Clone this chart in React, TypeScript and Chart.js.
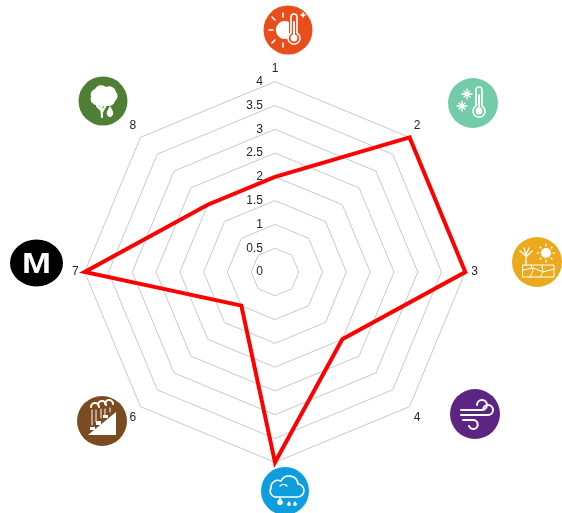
import React, { useEffect, useRef } from "react";
import { Chart, registerables } from "chart.js";

Chart.register(...registerables);

const categories = ["1", "2", "3", "4", "5", "6", "7", "8"];
const seriesValues = [2, 4, 4, 2, 4, 1, 4, 2];
const tickValues = [0, 0.5, 1, 1.5, 2, 2.5, 3, 3.5, 4];

type Glyph = (c: CanvasRenderingContext2D) => void;

const line = (c: CanvasRenderingContext2D, d: string, w = 1.6) => {
  c.lineWidth = w;
  c.stroke(new Path2D(d));
};
const fill = (c: CanvasRenderingContext2D, d: string) => c.fill(new Path2D(d));

const thermo: Glyph = (c) => {
  line(c, "M3 -13 A3 3 0 0 1 9 -13 V3 A6 6 0 1 1 3 3 Z", 1.6);
  c.beginPath(); c.arc(6, 8, 3.4, 0, 7); c.fill();
  line(c, "M6 -8 V6", 2);
};

const icons: { x: number; y: number; rx: number; ry: number; color: string; glyph: Glyph }[] = [
  { x: 288, y: 30, rx: 24.5, ry: 24.5, color: "#E84E1B", glyph: (c) => {
    thermo(c);
    fill(c, "M1 -8 A9 9 0 1 0 1 8 Z");
    line(c, "M-15 0 H-19 M-13 -10 L-16 -13 M-5 -13 V-17 M-13 10 L-16 13 M-5 13 V17 M13 -15 H17 M15 -17 V-13", 1.6);
  } },
  { x: 473, y: 103, rx: 25, ry: 25, color: "#73CBA9", glyph: (c) => {
    thermo(c);
    line(c, "M-6 -14 V-4 M-11 -9 H-1 M-9 -12 L-3 -6 M-3 -12 L-9 -6 M-11 -2 V8 M-16 3 H-6 M-14 0 L-8 6 M-8 0 L-14 6", 1.3);
  } },
  { x: 537, y: 262, rx: 25, ry: 25, color: "#EBA91E", glyph: (c) => {
    c.beginPath(); c.arc(9, -9, 5, 0, 7); c.fill();
    line(c, "M9 -18 V-16 M9 -2 V0 M0 -9 H2 M16 -9 H18 M3 -15 L4 -14 M15 -15 L14 -14 M3 -3 L4 -4 M15 -3 L14 -4", 1.2);
    line(c, "M-14 3 H17 V15 H-14 Z M-14 8 L-4 6 L6 10 L17 7 M-6 3 L-4 9 L-7 15 M5 4 L6 10 L3 15", 1);
    line(c, "M-11 3 V-6 M-11 -6 L-17 -11 M-11 -5 L-5 -11 M-11 -7 L-13 -14 M-11 -7 L-8 -14", 1.3);
  } },
  { x: 475, y: 414, rx: 25, ry: 25, color: "#5D2583", glyph: (c) => {
    line(c, "M-14 -4 H7 A5 5 0 1 0 2 -9 M-14 1 H13 A5 5 0 1 0 8 -4 M-12 6 H-2 A4.5 4.5 0 1 1 -6 12", 2);
  } },
  { x: 285, y: 491, rx: 24, ry: 24, color: "#0E9DDD", glyph: (c) => {
    line(c, "M-8 6 H12 A6.5 6.5 0 0 0 13 -7 A9 9 0 0 0 -4 -10 A7 7 0 0 0 -14 -3 A6 6 0 0 0 -8 6 Z", 1.6);
    line(c, "M-5 -5 A5 5 0 0 1 2 -5", 1.4);
    fill(c, "M-5 6 L-2 11 A3 3 0 1 1 -8 11 Z M4 10 L6 13 A2 2 0 1 1 2 13 Z M10 10 L12 13 A2 2 0 1 1 8 13 Z");
  } },
  { x: 102, y: 421, rx: 25, ry: 25, color: "#7A4A21", glyph: (c) => {
    fill(c, "M-14 14 L14 -9 V14 Z");
    line(c, "M-11 -14 A4 4 0 0 1 -3 -14 M-4 -16 A4 4 0 0 1 4 -16 M3 -17 A4 4 0 0 1 11 -17", 2);
    line(c, "M-10 -11 V4 M-6 -11 V1 M-1 -12 V-3 M3 -12 V-5 M8 -13 V-9", 1);
    fill(c, "M-12 6 h5 v3 h-5 Z M-6 0 h5 v4 h-5 Z M1 -6 h5 v3 h-5 Z");
  } },
  { x: 36.5, y: 263, rx: 26.5, ry: 23.5, color: "#000000", glyph: (c) => {
    c.font = "bold 29px 'Liberation Sans'";
    c.textAlign = "center";
    c.textBaseline = "middle";
    c.scale(1.2, 1);
    c.fillText("M", 0, 2);
  } },
  { x: 103, y: 101, rx: 24.5, ry: 24.5, color: "#4F7F34", glyph: (c) => {
    fill(c, "M-12 -4 A6 6 0 0 1 -8 -12 A7 7 0 0 1 3 -14 A7 7 0 0 1 13 -9 A6 6 0 0 1 12 0 A6 6 0 0 1 3 4 A7 7 0 0 1 -6 4 A6 6 0 0 1 -12 -4 Z");
    line(c, "M-2 2 L-1 16 M-6 5 L-2 9 M3 4 L-1 11", 2.2);
    fill(c, "M6 16 C2 13 4 10 7 5 C10 10 12 13 8 16 Z");
  } },
];

const iconPlugin = {
  id: "icons",
  afterDraw(chart: Chart) {
    const c = chart.ctx;
    for (const i of icons) {
      c.save();
      c.translate(i.x, i.y);
      c.fillStyle = i.color;
      c.beginPath();
      c.ellipse(0, 0, i.rx, i.ry, 0, 0, Math.PI * 2);
      c.fill();
      c.fillStyle = "#ffffff";
      c.strokeStyle = "#ffffff";
      c.lineCap = "round";
      i.glyph(c);
      c.restore();
    }
  },
};

const tickLabelPlugin = {
  id: "tickLabels",
  afterDatasetsDraw(chart: Chart) {
    const scale = chart.scales.r as any;
    const c = chart.ctx;
    c.save();
    c.font = "12px 'Liberation Sans'";
    c.fillStyle = "#262626";
    c.textAlign = "right";
    c.textBaseline = "middle";
    for (const t of scale.ticks) {
      const d = scale.getDistanceFromCenterForValue(t.value);
      c.fillText(String(t.value), scale.xCenter - 12, scale.yCenter - d);
    }
    c.restore();
  },
};

export default function App() {
  const ref = useRef<HTMLCanvasElement>(null);
  useEffect(() => {
    const chart = new Chart(ref.current!, {
      type: "radar",
      data: {
        labels: categories,
        datasets: [
          {
            data: seriesValues,
            borderColor: "#FF0000",
            borderWidth: 4,
            backgroundColor: "transparent",
            pointRadius: 0,
            tension: 0,
            borderJoinStyle: "miter",
          },
        ],
      },
      options: {
        responsive: false,
        animation: false,
        layout: { padding: { left: 72, right: 84, top: 61, bottom: 30 } },
        plugins: { legend: { display: false }, tooltip: { enabled: false } },
        scales: {
          r: {
            min: tickValues[0],
            max: tickValues[tickValues.length - 1],
            afterBuildTicks: (axis: any) => {
              axis.ticks = tickValues.map((value) => ({ value }));
            },
            ticks: { display: false, stepSize: 0.5 },
            grid: { color: "#C8C8C8", lineWidth: 1 },
            angleLines: { display: false },
            pointLabels: {
              padding: 6,
              color: "#262626",
              font: { family: "'Liberation Sans'", size: 12 },
            },
          },
        },
      },
      plugins: [tickLabelPlugin, iconPlugin],
    });
    return () => chart.destroy();
  }, []);
  return (
    <canvas
      ref={ref}
      width={562}
      height={513}
      style={{ position: "absolute", left: 0, top: 0, width: 562, height: 513 }}
    />
  );
}
